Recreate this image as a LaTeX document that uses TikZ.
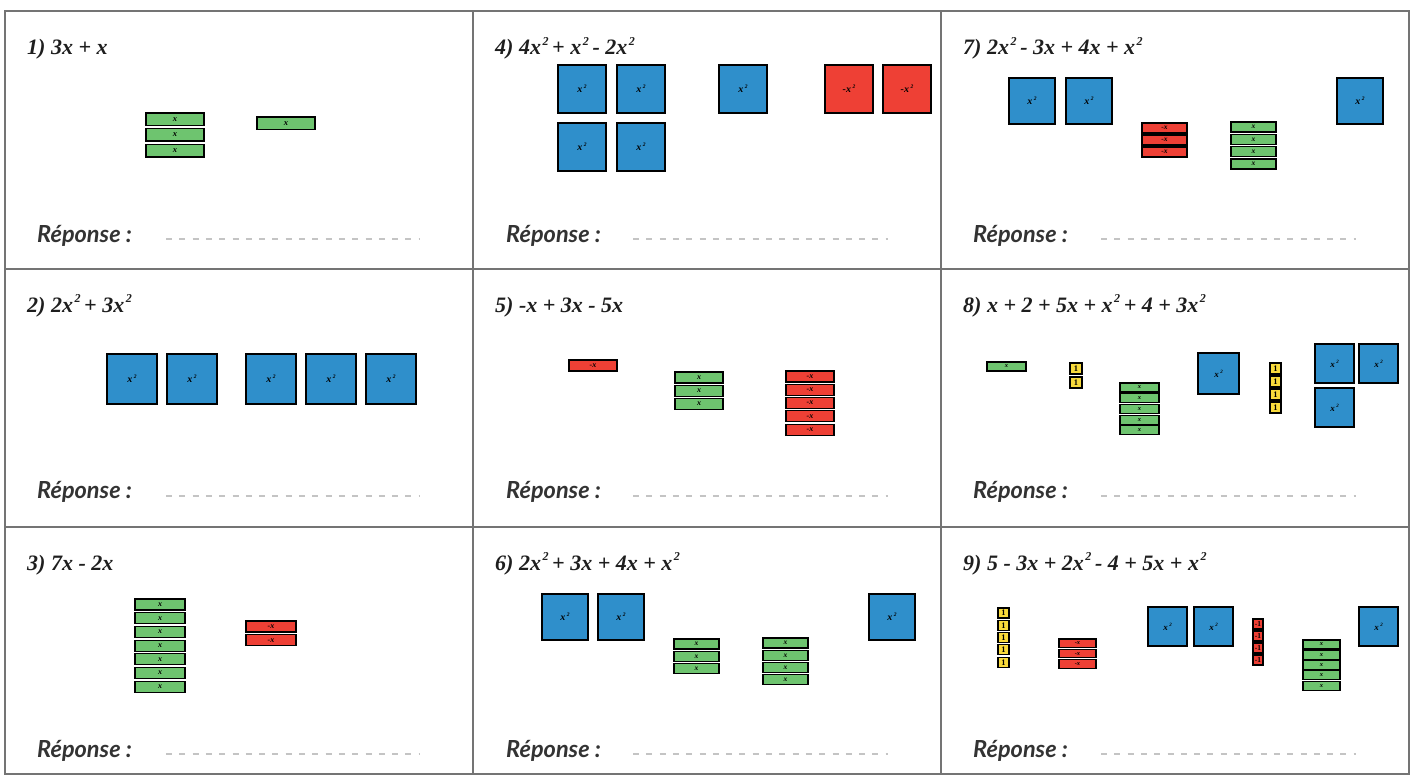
\documentclass[tikz,border=0pt]{standalone}
\usepackage{fontspec}
\setmainfont{Liberation Serif}
\newfontfamily\lato{Lato}
\definecolor{sqblue}{HTML}{2F8FCB}
\definecolor{xgreen}{HTML}{6EC46F}
\definecolor{nred}{HTML}{EE4035}
\definecolor{oneyel}{HTML}{F8DA3C}
\definecolor{gridcol}{HTML}{747474}
\definecolor{dashcol}{HTML}{C4C4C4}
\definecolor{repcol}{HTML}{333333}
\definecolor{titcol}{HTML}{1E1E1E}
\newcommand\lbl[1]{\fontsize{#1}{#1}\selectfont\bfseries\itshape}
\newcommand\ulbl[1]{\fontsize{#1}{#1}\selectfont\bfseries}
\newcommand\sqr{\kern1.5pt\raisebox{0.42em}{\fontsize{0.55em}{0.55em}\selectfont 2}}
\tikzset{
  tile/.style={draw=black, line width=1.1pt, inner sep=0pt, outer sep=0pt, anchor=north west},
  sqt/.style={tile, fill=sqblue, minimum width=#1pt, minimum height=#1pt, font=\lbl{10}},
  nsqt/.style={tile, fill=nred, minimum width=#1pt, minimum height=#1pt, font=\lbl{10}},
  xt/.style 2 args={tile, fill=xgreen, minimum width=#1pt, minimum height=#2pt},
  nxt/.style 2 args={tile, fill=nred, minimum width=#1pt, minimum height=#2pt},
  onet/.style 2 args={tile, fill=oneyel, minimum width=#1pt, minimum height=#2pt, font=\ulbl{8.5}},
  nonet/.style 2 args={tile, fill=nred, minimum width=#1pt, minimum height=#2pt, font=\ulbl{7.5}},
  title/.style={anchor=base west, inner sep=0pt, text=titcol, font=\fontsize{22}{22}\selectfont\bfseries\itshape},
  rep/.style={anchor=base west, inner sep=0pt, text=repcol, font=\lato\fontsize{23.5}{23.5}\selectfont\bfseries\itshape},
  ans/.style={draw=dashcol, line width=1.1pt, dash pattern=on 6pt off 7.3pt},
  grid/.style={draw=gridcol, line width=2pt}
}
\begin{document}
\begin{tikzpicture}[x=1pt, y=-1pt]
\useasboundingbox[fill=white] (0,0) rectangle (1413,776);
% grid
\draw[grid] (5,11) rectangle (1409,774);
\draw[grid] (473,11) -- (473,774);
\draw[grid] (941,11) -- (941,774);
\draw[grid] (5,269) -- (1409,269);
\draw[grid] (5,527) -- (1409,527);
% titles
\node[title] (t1) at (27,55) {1) 3x + x};
\node[title] (t4) at (495,55) {4) 4x\sqr\,+ x\sqr\,- 2x\sqr};
\node[title] (t7) at (963,55) {7) 2x\sqr\,- 3x + 4x + x\sqr};
\node[title] (t2) at (27,312) {2) 2x\sqr\,+ 3x\sqr};
\node[title] (t5) at (495,312) {5) -x + 3x - 5x};
\node[title] (t8) at (963,312) {8) x + 2 + 5x + x\sqr\,+ 4 + 3x\sqr};
\node[title] (t3) at (27,570) {3) 7x - 2x};
\node[title] (t6) at (495,570) {6) 2x\sqr\,+ 3x + 4x + x\sqr};
\node[title] (t9) at (963,570) {9) 5 - 3x + 2x\sqr\,- 4 + 5x + x\sqr};
% reponses
\foreach \c/\rx/\da/\db in {1/37/166/419, 2/506/633/888, 3/973/1101/1356}{
  \foreach \r/\ry/\dy in {1/242/239, 2/498/496, 3/757/754}{
    \node[rep] (rep\c\r) at (\rx,\ry) {Réponse :};
    \coordinate (da\c\r) at (\da,\dy);
    \coordinate (db\c\r) at (\db,\dy);
    \draw[ans] (da\c\r) -- (db\c\r);
  }
}
% cell 1
\foreach \i/\y in {1/113,2/128.5,3/144.5}
  \node[xt={58}{12.5}, font=\lbl{8.5}] (c1x\i) at (146,\y) {x};
\node[xt={58}{12.5}, font=\lbl{8.5}] (c1y) at (257,117) {x};
% cell 4
\node[sqt=48] (c4a) at (558,65) {x\sqr};
\node[sqt=48] (c4b) at (617,65) {x\sqr};
\node[sqt=48] (c4c) at (558,123) {x\sqr};
\node[sqt=48] (c4d) at (617,123) {x\sqr};
\node[sqt=48] (c4e) at (719,65) {x\sqr};
\node[nsqt=48] (c4f) at (825,65) {-x\sqr};
\node[nsqt=48] (c4g) at (883,65) {-x\sqr};
% cell 7
\node[sqt=46] (c7a) at (1009,78) {x\sqr};
\node[sqt=46] (c7b) at (1066,78) {x\sqr};
\node[sqt=46] (c7c) at (1337,78) {x\sqr};
\foreach \i/\y in {1/123,2/135,3/147}
  \node[nxt={45}{10}, font=\lbl{7.5}] (c7r\i) at (1142,\y) {-x};
\foreach \i/\y in {1/122,2/134.3,3/146.6,4/159}
  \node[xt={45}{10}, font=\lbl{7.5}] (c7g\i) at (1231,\y) {x};
% cell 2
\foreach \i/\x in {1/107,2/167,3/246,4/306,5/366}
  \node[sqt=50] (c2s\i) at (\x,354) {x\sqr};
% cell 5
\node[nxt={48}{11}, font=\lbl{8}] (c5r) at (569,360) {-x};
\foreach \i/\y in {1/372,2/385.3,3/398.6}
  \node[xt={48}{11}, font=\lbl{8}] (c5g\i) at (675,\y) {x};
\foreach \i/\y in {1/371,2/384.3,3/397.6,4/410.9,5/424.2}
  \node[nxt={48}{11}, font=\lbl{8}] (c5n\i) at (786,\y) {-x};
% cell 8
\node[xt={39}{9}, font=\lbl{6.5}] (c8x) at (987,362) {x};
\node[onet={12}{11}] (c8o1) at (1070,363) {1};
\node[onet={12}{11}] (c8o2) at (1070,377) {1};
\foreach \i/\y in {1/383,2/393.7,3/404.4,4/415.1,5/425.8}
  \node[xt={39}{9}, font=\lbl{6.5}] (c8g\i) at (1120,\y) {x};
\node[sqt=41, font=\lbl{9}] (c8s) at (1198,353) {x\sqr};
\foreach \i/\y in {1/363,2/376,3/389,4/402}
  \node[onet={11}{11}] (c8u\i) at (1270,\y) {1};
\node[sqt=39, font=\lbl{9}] (c8a) at (1315,344) {x\sqr};
\node[sqt=39, font=\lbl{9}] (c8b) at (1359,344) {x\sqr};
\node[sqt=39, font=\lbl{9}] (c8c) at (1315,388) {x\sqr};
% cell 3
\foreach \i in {0,...,6}
  \node[xt={50}{11}, font=\lbl{8}] (c3g\i) at (135,599+13.7*\i) {x};
\node[nxt={50}{11}, font=\lbl{8}] (c3r1) at (246,621) {-x};
\node[nxt={50}{11}, font=\lbl{8}] (c3r2) at (246,634.7) {-x};
% cell 6
\node[sqt=46] (c6a) at (542,594) {x\sqr};
\node[sqt=46] (c6b) at (598,594) {x\sqr};
\node[sqt=46] (c6c) at (869,594) {x\sqr};
\foreach \i/\y in {1/639,2/651.3,3/663.6}
  \node[xt={45}{10}, font=\lbl{7.5}] (c6g\i) at (674,\y) {x};
\foreach \i/\y in {1/638,2/650.3,3/662.6,4/674.9}
  \node[xt={45}{10}, font=\lbl{7.5}] (c6h\i) at (763,\y) {x};
% cell 9
\foreach \i in {0,...,4}
  \node[onet={11}{10}] (c9o\i) at (998,608+12.3*\i) {1};
\foreach \i/\y in {1/639,2/649.3,3/659.6}
  \node[nxt={37}{8.5}, font=\lbl{6.5}] (c9r\i) at (1059,\y) {-x};
\node[sqt=39, font=\lbl{9}] (c9a) at (1148,607) {x\sqr};
\node[sqt=39, font=\lbl{9}] (c9b) at (1194,607) {x\sqr};
\node[sqt=39, font=\lbl{9}] (c9c) at (1359,607) {x\sqr};
\foreach \i in {0,...,3}
  \node[nonet={10}{10}] (c9n\i) at (1253,619+12*\i) {-1};
\foreach \i in {0,...,4}
  \node[xt={37}{9}, font=\lbl{6.5}] (c9g\i) at (1303,640+10.3*\i) {x};
\end{tikzpicture}
\end{document}
